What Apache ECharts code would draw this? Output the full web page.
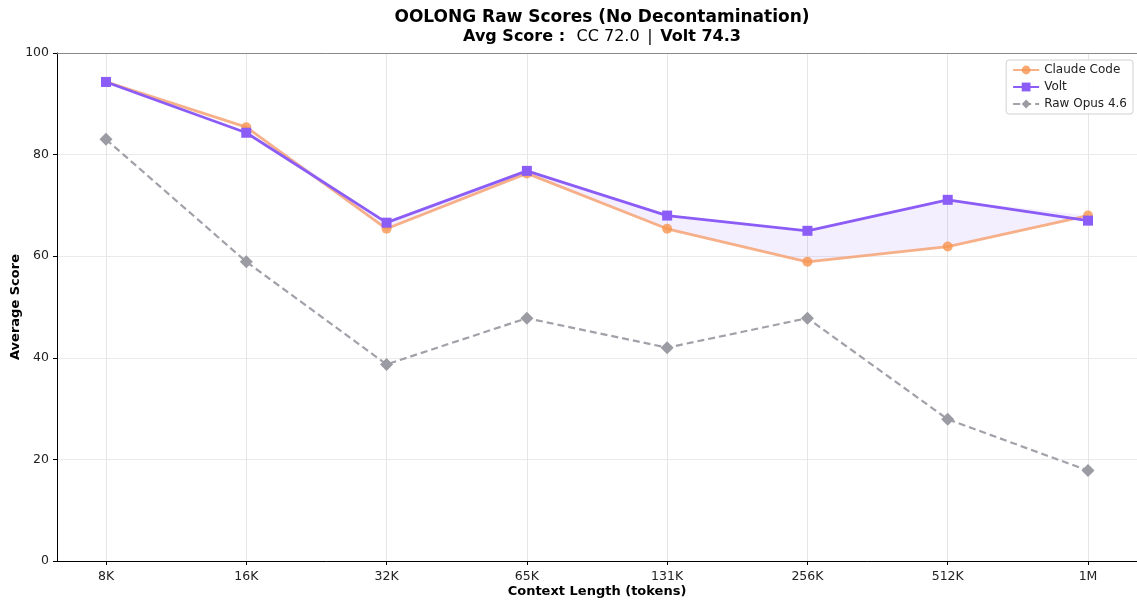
<!DOCTYPE html>
<html>
<head>
<meta charset="utf-8">
<script src="https://cdn.jsdelivr.net/npm/echarts@6/dist/echarts.min.js"></script>
<style>
  html, body { margin: 0; padding: 0; background: #fff; }
  #chart { width: 1137px; height: 601px; }
</style>
</head>
<body>
<div id="chart"></div>
<script>
// context lengths on the x axis
const contextLengths = ['8K', '16K', '32K', '65K', '131K', '256K', '512K', '1M'];
// average scores per context length
const claudeCode = [94.3, 85.4, 65.4, 76.3, 65.4, 58.9, 61.9, 68.0];
const volt = [94.3, 84.3, 66.6, 76.8, 68.0, 65.0, 71.1, 67.0];
const rawOpus = [83.0, 58.9, 38.7, 47.8, 42.0, 47.8, 27.9, 17.8];
const yTicks = [0, 20, 40, 60, 80, 100];

// band between Claude Code and Volt (only where Volt is ahead)
const bandGap = volt.map((v, i) => Math.max(0, v - claudeCode[i]));

const FONT = 'DejaVu Sans';
const chart = echarts.init(document.getElementById('chart'));

const option = {
  animation: false,
  backgroundColor: '#fff',
  textStyle: { fontFamily: FONT },
  title: {
    left: 597,
    textAlign: 'center',
    top: 4,
    text: 'OOLONG Raw Scores (No Decontamination)',
    textStyle: { fontFamily: FONT, fontSize: 17, fontWeight: 'bold', color: '#000' },
    subtext: '{b|Avg Score :}   {n|CC 72.0}  {n||}  {b|Volt 74.3}',
    itemGap: 3,
    subtextStyle: {
      rich: {
        b: { fontFamily: FONT, fontSize: 16, fontWeight: 'bold', color: '#000' },
        n: { fontFamily: FONT, fontSize: 16, color: '#000' }
      }
    }
  },
  legend: {
    orient: 'vertical',
    right: 4,
    top: 60,
    data: ['Claude Code', 'Volt', 'Raw Opus 4.6'],
    itemWidth: 26,
    itemHeight: 11,
    itemGap: 5,
    padding: [4, 6, 4, 6],
    borderColor: '#d0d0d0',
    borderWidth: 1,
    borderRadius: 3,
    backgroundColor: 'rgba(255,255,255,0.85)',
    textStyle: { fontFamily: FONT, fontSize: 12, color: '#222' }
  },
  grid: [
    { left: 57, right: 0, top: 53, bottom: 40, containLabel: false, outerBoundsMode: 'none' },
    { left: 106, right: 49, top: 53, bottom: 40, containLabel: false, outerBoundsMode: 'none' }
  ],
  xAxis: [
    {
      // frame axis spanning the full plot width
      gridIndex: 0, type: 'value', min: 0, max: 1,
      axisLine: { show: true, lineStyle: { color: '#000', width: 1 } },
      axisTick: { show: false }, axisLabel: { show: false }, splitLine: { show: false },
      name: 'Context Length (tokens)', nameLocation: 'middle', nameGap: 24, nameMoveOverlap: false,
      nameTextStyle: { fontFamily: FONT, fontSize: 13, fontWeight: 'bold', color: '#000' }
    },
    {
      gridIndex: 0, type: 'value', min: 0, max: 1, position: 'top',
      axisLine: { show: true, lineStyle: { color: '#888', width: 1 } },
      axisTick: { show: false }, axisLabel: { show: false }, splitLine: { show: false }
    },
    {
      gridIndex: 1, type: 'category', data: contextLengths, boundaryGap: false,
      axisLine: { show: false },
      axisTick: { show: true, alignWithLabel: true, length: 4, lineStyle: { color: '#000' } },
      axisLabel: { fontFamily: FONT, fontSize: 12.5, color: '#222', margin: 9 },
      splitLine: { show: true, lineStyle: { color: '#e6e6e6', width: 1 } }
    }
  ],
  yAxis: [
    {
      gridIndex: 0, type: 'value', min: 0, max: 100, interval: 20,
      axisLine: { show: true, lineStyle: { color: '#000', width: 1 } },
      axisTick: { show: true, length: 4, lineStyle: { color: '#000' } },
      axisLabel: {
        fontFamily: FONT, fontSize: 12.5, color: '#222', margin: 8,
        formatter: v => (yTicks.includes(v) ? String(v) : '')
      },
      splitLine: { show: true, lineStyle: { color: '#ebebeb', width: 1 } },
      name: 'Average Score', nameLocation: 'middle', nameGap: 35, nameMoveOverlap: false,
      nameTextStyle: { fontFamily: FONT, fontSize: 13, fontWeight: 'bold', color: '#000' }
    },
    {
      gridIndex: 1, type: 'value', min: 0, max: 100,
      axisLine: { show: false }, axisTick: { show: false },
      axisLabel: { show: false }, splitLine: { show: false }
    }
  ],
  series: [
    {
      name: 'bandBase', type: 'line', xAxisIndex: 2, yAxisIndex: 1,
      data: claudeCode, stack: 'band', stackStrategy: 'all',
      symbol: 'none', lineStyle: { opacity: 0 }, silent: true, z: 1
    },
    {
      name: 'bandGap', type: 'line', xAxisIndex: 2, yAxisIndex: 1,
      data: bandGap, stack: 'band', stackStrategy: 'all',
      symbol: 'none', lineStyle: { opacity: 0 },
      areaStyle: { color: 'rgba(139,92,246,0.14)' }, silent: true, z: 1
    },
    {
      name: 'Raw Opus 4.6', type: 'line', xAxisIndex: 2, yAxisIndex: 1,
      data: rawOpus, symbol: 'diamond', symbolSize: 13,
      lineStyle: { color: '#a1a1aa', width: 2.2, type: [7, 4] },
      itemStyle: { color: '#9b9ba3' }, z: 3
    },
    {
      name: 'Claude Code', type: 'line', xAxisIndex: 2, yAxisIndex: 1,
      data: claudeCode, symbol: 'circle', symbolSize: 10,
      lineStyle: { color: '#f59e6c', width: 2.8, opacity: 0.8 },
      itemStyle: { color: '#f7954f', opacity: 0.8 }, z: 4
    },
    {
      name: 'Volt', type: 'line', xAxisIndex: 2, yAxisIndex: 1,
      data: volt, symbol: 'rect', symbolSize: 10,
      lineStyle: { color: '#8b5cf6', width: 2.8 },
      itemStyle: { color: '#8b5cf6' }, z: 5
    }
  ]
};

chart.setOption(option);
window.onresize = function () { chart.resize(); };
</script>
</body>
</html>
